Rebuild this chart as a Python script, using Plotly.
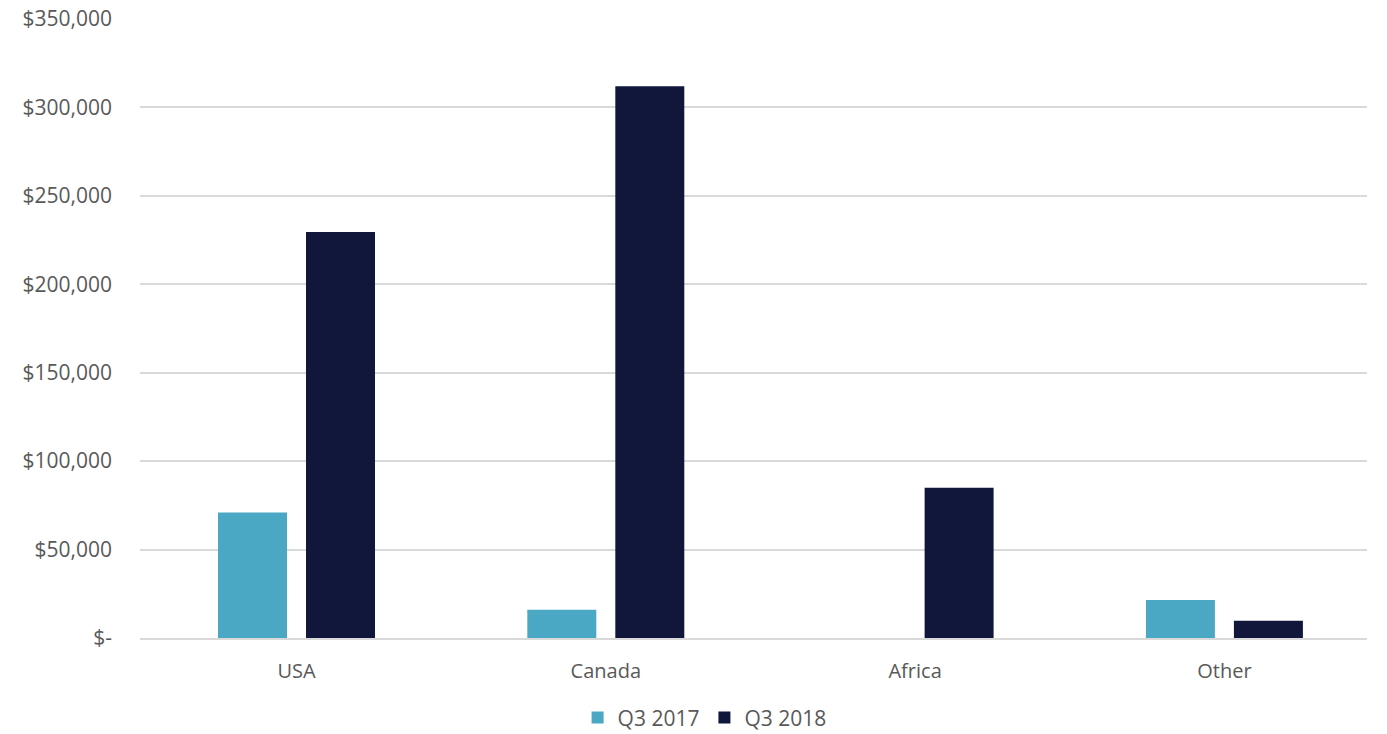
import plotly.graph_objects as go

categories = ["USA", "Canada", "Africa", "Other"]
q3_2017 = [71000, 16000, 0, 21500]
q3_2018 = [229500, 312000, 85000, 9700]
tick_vals = [0, 50000, 100000, 150000, 200000, 250000, 300000, 350000]
tick_text = ["$-", "$50,000", "$100,000", "$150,000", "$200,000", "$250,000", "$300,000", "$350,000"]

fig = go.Figure()
fig.add_trace(go.Bar(x=categories, y=q3_2017, name="Q3 2017", marker_color="#4BA8C5", marker_line_width=0))
fig.add_trace(go.Bar(x=categories, y=q3_2018, name="Q3 2018", marker_color="#11173A", marker_line_width=0))

fig.update_layout(
    width=1387, height=734,
    margin=dict(l=140, r=20, t=19, b=96, autoexpand=False),
    paper_bgcolor="white", plot_bgcolor="white",
    barmode="group", bargap=0.431, bargroupgap=0.216,
    font=dict(family="Open Sans, Liberation Sans, sans-serif", size=20, color="#595959"),
    legend=dict(orientation="h", x=0.508, xanchor="center", xref="container",
                y=-0.129, yref="paper", yanchor="middle",
                font=dict(size=21, color="#595959"), traceorder="normal"),
    showlegend=True,
)
fig.update_yaxes(range=[0, 350000], tickvals=tick_vals, ticktext=tick_text,
                 showgrid=True, gridcolor="#D9D9D9", gridwidth=2, zeroline=False,
                 showline=False, ticks="", ticklabelstandoff=27, automargin=False,
                 tickfont=dict(size=21, color="#595959"))
fig.update_xaxes(range=[-0.506, 3.461], showline=True, linecolor="#D9D9D9", linewidth=2, ticks="",
                 ticklabelstandoff=14, showgrid=False, automargin=False,
                 tickfont=dict(size=20, color="#595959"))

fig.write_html("out.html")
